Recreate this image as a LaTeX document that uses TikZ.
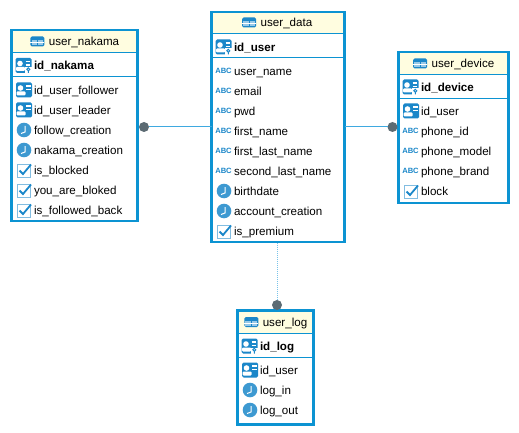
\documentclass[tikz,border=0pt]{standalone}
\usepackage{fontspec}
\setmainfont{Liberation Sans}
\usetikzlibrary{positioning}

\definecolor{framecol}{HTML}{0C93D2}
\definecolor{iconcol}{HTML}{1B87C9}
\definecolor{headcol}{HTML}{FFFDE0}
\definecolor{dotcol}{HTML}{5C6B73}
\definecolor{linecol}{HTML}{3FA9E0}

\tikzset{
    tableframe/.style = {draw = framecol, line width = 2.5pt, fill = white, anchor = north west, outer sep = 0pt, inner sep = 0pt},
    tablehead/.style = {fill = headcol, anchor = north, inner sep = 0pt, outer sep = 0pt, minimum height = 21pt},
    headtext/.style = {font = \fontsize{11.6}{14}\selectfont, inner sep = 0pt, outer sep = 0pt, text height = 11pt, text depth = 2pt},
    colrow/.style = {font = \fontsize{11.6}{14}\selectfont, anchor = north west, inner sep = 0pt, outer sep = 0pt, minimum height = 20pt, text height = 11pt, text depth = 2pt},
    keyrow/.style = {colrow, font = \fontsize{11.6}{14}\selectfont\bfseries},
    sepline/.style = {draw = framecol, line width = 1pt},
    conndot/.style = {circle, fill = dotcol, inner sep = 0pt, minimum size = 10pt, outer sep = 0pt},
    connline/.style = {draw = linecol, line width = 1pt},
    tableicon/.pic = {
        \fill[iconcol, rounded corners = 1.5pt] (-7,-5) rectangle (7,5);
        \fill[white!55!iconcol] (-5.8,-1.2) rectangle (-0.6,3.8);
        \fill[white!55!iconcol] (0.6,-1.2) rectangle (5.8,3.8);
        \draw[white, line width = 0.7pt] (-7,1.2) -- (7,1.2);
    },
    personicon/.pic = {
        \fill[iconcol, rounded corners = 1.5pt] (-8,-7.5) rectangle (8,7.5);
        \fill[white] (-3.5,-2) circle (2.8);
        \fill[white, rounded corners = 1pt] (-7.5,5.5) rectangle (1.5,1.5);
        \draw[white, line width = 1.2pt] (2,-4) -- (6.5,-4) (2,-0.5) -- (6.5,-0.5);
    },
    pkicon/.pic = {
        \fill[iconcol, rounded corners = 1.5pt] (-8,-7.5) rectangle (8,7.5);
        \fill[white] (-3.5,-2) circle (2.8);
        \fill[white, rounded corners = 1pt] (-7.5,5.5) rectangle (1.5,1.5);
        \draw[white, line width = 1.2pt] (2,-4) -- (6.5,-4) (2,-0.5) -- (6.5,-0.5);
        \fill[white] (1.5,1.5) rectangle (8,8);
        \draw[iconcol, line width = 1pt] (4.8,3.8) circle (1.5) (4.8,5.3) -- (4.8,7.5);
    },
    abcicon/.pic = {
        \node[font = \fontsize{7.6}{9}\selectfont\bfseries, text = iconcol, inner sep = 0pt] at (-0.5,-0.5) {ABC};
    },
    clockicon/.pic = {
        \fill[white!15!iconcol] (0,0) circle (7.3);
        \draw[white, line width = 1pt] (1,-4) -- (1,2) -- (-3,3.5);
    },
    checkicon/.pic = {
        \draw[white!45!iconcol, line width = 0.9pt] (-6.5,-6) rectangle (6.5,7);
        \draw[iconcol, line width = 1.8pt] (-4.5,0.5) -- (-1,4) -- (7,-5.5);
    }
}

% one column row: name, previous row, icon, text
\newcommand{\colrowat}[4]{
    \node[colrow] (#1) at (#2.south west) {#4};
    \pic at ([xshift=-10pt]#1.west) {#3};
}

\begin{document}
\begin{tikzpicture}[x = 1pt, y = -1pt]
    \useasboundingbox (0,0) rectangle (519,433);

    % user_data
    \node[tableframe, minimum width = 133pt, minimum height = 230pt] (userdata) at (211.5,12) {};
    \node[tablehead, minimum width = 130pt] at ([yshift=-1.2pt]userdata.north) {};
    \node[headtext] (userdatahead) at (286.5,22.5) {user\_data};
    \pic at ([xshift=-11.5pt]userdatahead.west) {tableicon};
    \draw[sepline] (211.5,34) -- (344,34);
    \draw[sepline] (211.5,58) -- (344,58);
    \node[keyrow] (iduser) at (234,37) {id\_user};
    \pic at (223.5,47) {pkicon};
    \node[colrow] (username) at (234,61) {user\_name};
    \pic at ([xshift=-10pt]username.west) {abcicon};
    \colrowat{email}{username}{abcicon}{email}
    \colrowat{pwd}{email}{abcicon}{pwd}
    \colrowat{firstname}{pwd}{abcicon}{first\_name}
    \colrowat{firstlastname}{firstname}{abcicon}{first\_last\_name}
    \colrowat{secondlastname}{firstlastname}{abcicon}{second\_last\_name}
    \colrowat{birthdate}{secondlastname}{clockicon}{birthdate}
    \colrowat{accountcreation}{birthdate}{clockicon}{account\_creation}
    \colrowat{ispremium}{accountcreation}{checkicon}{is\_premium}

    % user_nakama
    \node[tableframe, minimum width = 126pt, minimum height = 191pt] (usernakama) at (11.5,30) {};
    \node[tablehead, minimum width = 123pt] at ([yshift=-1.2pt]usernakama.north) {};
    \node[headtext] (usernakamahead) at (84,41.5) {user\_nakama};
    \pic at ([xshift=-11.5pt]usernakamahead.west) {tableicon};
    \draw[sepline] (11.5,53) -- (137.5,53);
    \draw[sepline] (11.5,77) -- (137.5,77);
    \node[keyrow] (idnakama) at (34,55.5) {id\_nakama};
    \pic at (23.5,65.5) {pkicon};
    \node[colrow] (iduserfollower) at (34,80) {id\_user\_follower};
    \pic at ([xshift=-10pt]iduserfollower.west) {personicon};
    \colrowat{iduserleader}{iduserfollower}{personicon}{id\_user\_leader}
    \colrowat{followcreation}{iduserleader}{clockicon}{follow\_creation}
    \colrowat{nakamacreation}{followcreation}{clockicon}{nakama\_creation}
    \colrowat{isblocked}{nakamacreation}{checkicon}{is\_blocked}
    \colrowat{youarebloked}{isblocked}{checkicon}{you\_are\_bloked}
    \colrowat{isfollowedback}{youarebloked}{checkicon}{is\_followed\_back}

    % user_device
    \node[tableframe, minimum width = 110pt, minimum height = 151pt] (userdevice) at (398.5,52) {};
    \node[tablehead, minimum width = 107pt] at ([yshift=-1.2pt]userdevice.north) {};
    \node[headtext] (userdevicehead) at (463,63.5) {user\_device};
    \pic at ([xshift=-11.5pt]userdevicehead.west) {tableicon};
    \draw[sepline] (398.5,75) -- (508.5,75);
    \draw[sepline] (398.5,98.5) -- (508.5,98.5);
    \node[keyrow] (iddevice) at (421,77) {id\_device};
    \pic at (410.5,87) {pkicon};
    \node[colrow] (iduserdev) at (421,101) {id\_user};
    \pic at ([xshift=-10pt]iduserdev.west) {personicon};
    \colrowat{phoneid}{iduserdev}{abcicon}{phone\_id}
    \colrowat{phonemodel}{phoneid}{abcicon}{phone\_model}
    \colrowat{phonebrand}{phonemodel}{abcicon}{phone\_brand}
    \colrowat{block}{phonebrand}{checkicon}{block}

    % user_log
    \node[tableframe, minimum width = 76pt, minimum height = 114pt] (userlog) at (237.5,310.5) {};
    \node[tablehead, minimum width = 73pt] at ([yshift=-1.2pt]userlog.north) {};
    \node[headtext] (userloghead) at (285,322) {user\_log};
    \pic at ([xshift=-11.5pt]userloghead.west) {tableicon};
    \draw[sepline] (237.5,333.5) -- (313.5,333.5);
    \draw[sepline] (237.5,357.5) -- (313.5,357.5);
    \node[keyrow] (idlog) at (260,336) {id\_log};
    \pic at (249.5,346) {pkicon};
    \node[colrow] (iduserlog) at (260,360) {id\_user};
    \pic at ([xshift=-10pt]iduserlog.west) {personicon};
    \colrowat{login}{iduserlog}{clockicon}{log\_in}
    \colrowat{logout}{login}{clockicon}{log\_out}

    % connectors
    \node[conndot] (dotnakama) at (144,127) {};
    \node[conndot] (dotdevice) at (392.5,127) {};
    \node[conndot] (dotlog) at (277,305) {};
    \draw[connline] (dotnakama) -- (dotnakama -| userdata.west);
    \draw[connline] (dotdevice) -- (dotdevice -| userdata.east);
    \draw[connline, draw = linecol!70, dash pattern = on 1.5pt off 0.5pt] (dotlog) -- (dotlog |- userdata.south);
\end{tikzpicture}
\end{document}
